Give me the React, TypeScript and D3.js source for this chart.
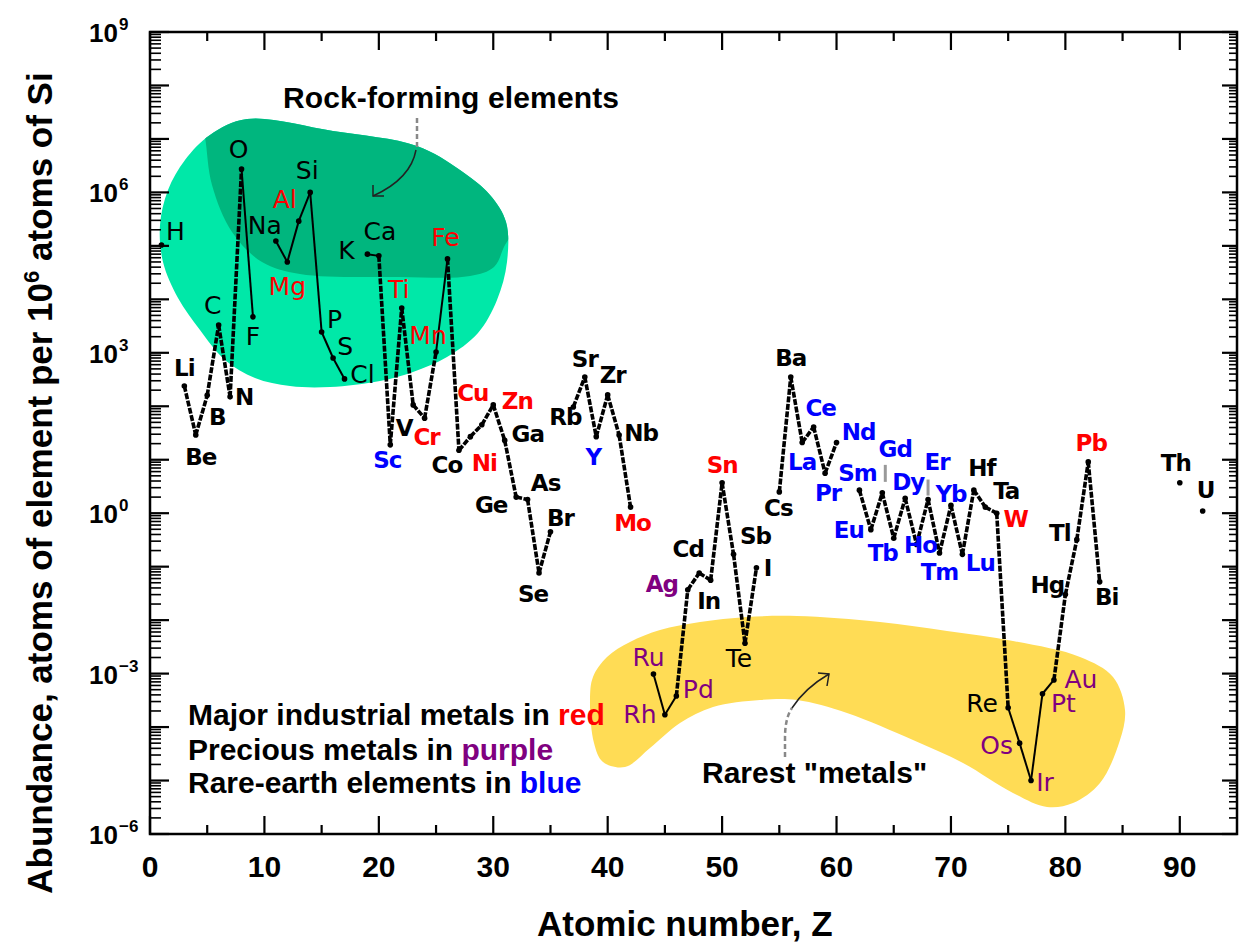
import React from 'react';
import * as d3 from 'd3';

// elements shown on the chart (gaps = noble gases, Tc, Pm, Po..Ac, Pa)
const symbols = ['H', 'Li', 'Be', 'B', 'C', 'N', 'O', 'F', 'Na', 'Mg', 'Al', 'Si', 'P', 'S', 'Cl',
  'K', 'Ca', 'Sc', 'Ti', 'V', 'Cr', 'Mn', 'Fe', 'Co', 'Ni', 'Cu', 'Zn', 'Ga', 'Ge', 'As', 'Se', 'Br',
  'Rb', 'Sr', 'Y', 'Zr', 'Nb', 'Mo', 'Ru', 'Rh', 'Pd', 'Ag', 'Cd', 'In', 'Sn', 'Sb', 'Te', 'I',
  'Cs', 'Ba', 'La', 'Ce', 'Pr', 'Nd', 'Sm', 'Eu', 'Gd', 'Tb', 'Dy', 'Ho', 'Er', 'Tm', 'Yb', 'Lu',
  'Hf', 'Ta', 'W', 'Re', 'Os', 'Ir', 'Pt', 'Au', 'Hg', 'Tl', 'Pb', 'Bi', 'Th', 'U'];

const atomicNumbers = [1, 3, 4, 5, 6, 7, 8, 9, 11, 12, 13, 14, 15, 16, 17,
  19, 20, 21, 22, 23, 24, 25, 26, 27, 28, 29, 30, 31, 32, 33, 34, 35,
  37, 38, 39, 40, 41, 42, 44, 45, 46, 47, 48, 49, 50, 51, 52, 53,
  55, 56, 57, 58, 59, 60, 62, 63, 64, 65, 66, 67, 68, 69, 70, 71,
  72, 73, 74, 75, 76, 77, 78, 79, 80, 81, 82, 83, 90, 92];

// atoms per 10^6 atoms of Si
const abundance = [1.04e5, 240, 29, 160, 3300, 150, 2.74e6, 4700, 1.23e5, 5.0e4, 2.9e5, 1e6, 2450, 800, 325,
  7.0e4, 6.5e4, 19, 6900, 106, 60, 1030, 5.7e4, 15, 27, 45, 106, 23, 2.0, 1.8, 0.076, 0.45,
  97, 353, 27, 163, 29, 1.3, 9.8e-4, 1.7e-4, 3.8e-4, 0.037, 0.076, 0.056, 3.7, 0.17, 3.7e-3, 0.095,
  2.5, 353, 21, 41, 5.6, 21, 2.7, 0.49, 2.4, 0.34, 1.9, 0.26, 1.8, 0.18, 1.4, 0.17,
  2.7, 1.3, 1.0, 2.3e-4, 5.0e-5, 1.0e-5, 4.2e-4, 7.6e-4, 0.03, 0.32, 9.1, 0.052, 3.7, 1.1];

const industrialMetals = ['Mg', 'Al', 'Ti', 'Cr', 'Mn', 'Fe', 'Ni', 'Cu', 'Zn', 'Mo', 'Sn', 'W', 'Pb'];
const preciousMetals = ['Ru', 'Rh', 'Pd', 'Ag', 'Os', 'Ir', 'Pt', 'Au'];
const rareEarths = ['Sc', 'Y', 'La', 'Ce', 'Pr', 'Nd', 'Sm', 'Eu', 'Gd', 'Tb', 'Dy', 'Ho', 'Er', 'Tm', 'Yb', 'Lu'];

const xTicks = [0, 10, 20, 30, 40, 50, 60, 70, 80, 90];
const yTickExponents = [-6, -3, 0, 3, 6, 9];

// labels drawn in the thin (hi-res) style
const thinLabels = ['H', 'C', 'O', 'F', 'Na', 'Mg', 'Al', 'Si', 'P', 'S', 'Cl', 'K', 'Ca', 'Ti', 'Mn', 'Fe',
  'Ru', 'Rh', 'Pd', 'Te', 'Re', 'Os', 'Ir', 'Pt', 'Au'];

// label centre relative to the point
const labelOffset: Record<string, [number, number]> = {
  H: [14, -13], Li: [0, -18], Be: [5, 22], B: [10, 22], C: [-6, -20], N: [14, 0], O: [-3, -19], F: [0, 20],
  Na: [-11, -16], Mg: [0, 25], Al: [-14, -22], Si: [-3, -22], P: [13, -12], S: [12, -11], Cl: [18, -4],
  K: [-21, -4], Ca: [1, -24], Sc: [-3, 15], Ti: [-3, -18], V: [-9, 23], Cr: [2, 19], Mn: [-8, -17],
  Fe: [-2, -21], Co: [-12, 15], Ni: [14, 26], Cu: [-9, -32], Zn: [24, -4], Ga: [23, -6], Ge: [-25, 8],
  As: [18, -17], Se: [-6, 21], Br: [10, -14], Rb: [-8, 10], Sr: [0, -18], Y: [-3, 20], Zr: [5, -20],
  Nb: [22, -2], Mo: [2, 16], Ru: [-5, -17], Rh: [-25, 0], Pd: [22, -7], Ag: [-26, -6], Cd: [-11, -24],
  In: [-2, 21], Sn: [0, -18], Sb: [22, -18], Te: [-6, 15], I: [11, 0], Cs: [-1, 16], Ba: [0, -19],
  La: [0, 19], Ce: [7, -19], Pr: [3, 20], Nd: [22, -11], Sm: [-2, -17], Eu: [-22, 0], Gd: [13, -44],
  Tb: [-11, 15], Dy: [3, -16], Ho: [4, 1], Er: [9, -38], Tm: [0, 19], Yb: [0, -11], Lu: [18, 9],
  Hf: [8, -22], Ta: [21, -16], W: [19, 6], Re: [-26, -4], Os: [-23, 2], Ir: [14, 2], Pt: [21, 10],
  Au: [27, 0], Hg: [-18, -10], Tl: [-17, -7], Pb: [3, -19], Bi: [7, 15], Th: [-4, -20], U: [3, -21],
};

const RED = '#ff0000';
const PURPLE = '#800080';
const BLUE = '#0000ff';

function colorOf(s: string) {
  if (industrialMetals.includes(s)) return RED;
  if (preciousMetals.includes(s)) return PURPLE;
  if (rareEarths.includes(s)) return BLUE;
  return '#000';
}

const BOLD = '"Liberation Sans", Arial, sans-serif';
const SYM = '"DejaVu Sans", Verdana, sans-serif';

export default function App() {
  const width = 1243, height = 944;
  const x = d3.scaleLinear().domain([0, 95]).range([150, 1237]);
  const y = d3.scaleLog().domain([1e-6, 1e9]).range([834, 32]);

  const pts = symbols.map((s, i) => ({ s, z: atomicNumbers[i], v: abundance[i] }));
  const pairs: [typeof pts[0], typeof pts[0]][] = [];
  for (let i = 1; i < pts.length; i++) {
    if (pts[i].z - pts[i - 1].z === 1) pairs.push([pts[i - 1], pts[i]]);
  }
  const line = d3.line<typeof pts[0]>().x(d => x(d.z)).y(d => y(d.v));

  const blob = d3.line().curve(d3.curveCatmullRomClosed.alpha(0.5));
  const greenPts: [number, number][] = [[247, 119], [333, 131], [417, 146], [460, 170], [490, 195], [506, 222],
    [507, 262], [497, 300], [478, 333], [447, 357], [413, 372], [380, 381], [330, 387], [290, 386], [255, 378],
    [225, 360], [200, 330], [178, 298], [163, 262], [160, 225], [168, 190], [185, 160], [210, 135]];
  const darkInner: [number, number][] = [[198, 100], [205, 137], [212, 185], [232, 232], [262, 262], [300, 274],
    [400, 277], [470, 276], [494, 267], [505, 245], [515, 230]];
  const darkPath = d3.line().curve(d3.curveCatmullRom)(darkInner) + 'L560,230L560,80L198,80Z';
  const yellowPts: [number, number][] = [[590, 700], [593, 677], [607, 657], [630, 642], [660, 630], [700, 622],
    [747, 617], [797, 616], [880, 622], [947, 631], [1013, 641], [1080, 657], [1113, 677], [1125, 710],
    [1120, 740], [1100, 783], [1073, 803], [1047, 807], [1013, 793], [963, 763], [913, 740], [847, 713],
    [797, 700], [760, 700], [713, 707], [680, 723], [650, 748], [625, 767], [603, 762], [594, 743]];

  const yMajor = d3.range(-6, 10);
  const yMinor: number[] = [];
  d3.range(-6, 9).forEach(k => d3.range(2, 10).forEach(m => yMinor.push(m * Math.pow(10, k))));
  const xMinor = d3.range(5, 95, 10);

  const x0 = x(0), x1 = x(95), yTop = y(1e9), yBot = y(1e-6);

  return (
    <svg width={width} height={height} style={{ position: 'absolute', left: 0, top: 0, background: '#fff' }}>
      <defs>
        <clipPath id="rockClip"><path d={blob(greenPts) || ''} /></clipPath>
      </defs>
      <path d={blob(greenPts) || ''} fill="#00e8a8" />
      <path d={darkPath} fill="#00b67e" clipPath="url(#rockClip)" />
      <path d={blob(yellowPts) || ''} fill="#ffdc55" />

      {/* annotations */}
      <text x={283} y={108} fontFamily={BOLD} fontWeight="bold" fontSize={30} textLength={336}>Rock-forming elements</text>
      <path d="M417,118 L417,150" stroke="#888" strokeWidth={2.5} strokeDasharray="5 3" />
      <path d="M416,150 C412,172 395,186 373,196" fill="none" stroke="#222" strokeWidth={1.5} />
      <polyline points="373,185 373,196 384,196" fill="none" stroke="#222" strokeWidth={1.5} />

      <text x={702} y={783} fontFamily={BOLD} fontWeight="bold" fontSize={30}>Rarest "metals"</text>
      <path d="M785,757 L785,738 Q785,718 792,708" fill="none" stroke="#888" strokeWidth={2.5} strokeDasharray="5 3" />
      <path d="M792,708 Q805,688 829,674" fill="none" stroke="#222" strokeWidth={1.5} />
      <polyline points="818,673 829,674 827,686" fill="none" stroke="#222" strokeWidth={1.5} />

      <g fontFamily={BOLD} fontWeight="bold" fontSize={30}>
        <text x={188} y={725}>Major industrial metals in <tspan fill={RED}>red</tspan></text>
        <text x={188} y={760}>Precious metals in <tspan fill={PURPLE}>purple</tspan></text>
        <text x={188} y={793}>Rare-earth elements in <tspan fill={BLUE}>blue</tspan></text>
      </g>

      {/* data lines */}
      {pairs.map(([a, b], i) => {
        const thick = !thinLabels.includes(a.s) || !thinLabels.includes(b.s);
        return (
          <path key={i} d={line([a, b]) || ''} fill="none" stroke="#000"
            strokeWidth={thick ? 3.6 : 2} strokeDasharray={thick ? '6 1.5' : undefined} />
        );
      })}
      {pts.map(p => <circle key={p.s} cx={x(p.z)} cy={y(p.v)} r={2.8} fill="#000" />)}

      {/* leader lines */}
      <line x1={x(64) + 3} x2={x(64) + 3} y1={y(2.4) - 28} y2={y(2.4) - 11} stroke="#999" strokeWidth={3} />
      <line x1={x(68)} x2={x(68)} y1={y(1.8) - 20} y2={y(1.8) - 4} stroke="#999" strokeWidth={3} />

      {pts.map(p => {
        const [dx, dy] = labelOffset[p.s];
        const thin = thinLabels.includes(p.s);
        return (
          <text key={'l' + p.s} x={x(p.z) + dx} y={y(p.v) + dy} textAnchor="middle" dominantBaseline="central"
            fontFamily={SYM} fontWeight={thin ? 'normal' : 'bold'} fontSize={thin ? 25 : 23}
            letterSpacing={thin ? 0 : -1} fill={colorOf(p.s)}>{p.s}</text>
        );
      })}

      {/* frame and ticks */}
      <rect x={x0} y={yTop} width={x1 - x0} height={yBot - yTop} fill="none" stroke="#000" strokeWidth={2.5} />
      <g stroke="#000" strokeWidth={2.2}>
        {xTicks.map(t => (
          <g key={'xt' + t}>
            <line x1={x(t)} x2={x(t)} y1={yBot} y2={yBot - 18} />
            <line x1={x(t)} x2={x(t)} y1={yTop} y2={yTop + 18} />
          </g>
        ))}
        {xMinor.map(t => (
          <g key={'xm' + t}>
            <line x1={x(t)} x2={x(t)} y1={yBot} y2={yBot - 9} />
            <line x1={x(t)} x2={x(t)} y1={yTop} y2={yTop + 9} />
          </g>
        ))}
        {yMajor.map(k => (
          <g key={'ym' + k}>
            <line x1={x0} x2={x0 + 19} y1={y(Math.pow(10, k))} y2={y(Math.pow(10, k))} />
            <line x1={x1} x2={x1 - 15} y1={y(Math.pow(10, k))} y2={y(Math.pow(10, k))} />
          </g>
        ))}
        {yMinor.map((v, i) => (
          <g key={'yn' + i} strokeWidth={1.6}>
            <line x1={x0} x2={x0 + 11} y1={y(v)} y2={y(v)} />
            <line x1={x1} x2={x1 - 8} y1={y(v)} y2={y(v)} />
          </g>
        ))}
      </g>

      <g fontFamily={BOLD} fontWeight="bold">
        {xTicks.map(t => (
          <text key={'xl' + t} x={x(t)} y={877} textAnchor="middle" fontSize={30}>{t}</text>
        ))}
        {yTickExponents.map(k => (
          <g key={'yl' + k}>
            <text x={118} y={y(Math.pow(10, k)) + 10} textAnchor="end" fontSize={26}>10</text>
            <text x={119} y={y(Math.pow(10, k)) - 2} fontSize={17}>{k < 0 ? '\u2212' + Math.abs(k) : k}</text>
          </g>
        ))}
      </g>

      <text x={537} y={936} fontFamily={BOLD} fontWeight="bold" fontSize={35}>Atomic number, Z</text>
      <text transform="translate(52,483) rotate(-90)" textAnchor="middle" fontFamily={BOLD} fontWeight="bold" fontSize={35}>
        Abundance, atoms of element per 10<tspan dy={-13} fontSize={22}>6</tspan><tspan dy={13}> atoms of Si</tspan>
      </text>
    </svg>
  );
}
